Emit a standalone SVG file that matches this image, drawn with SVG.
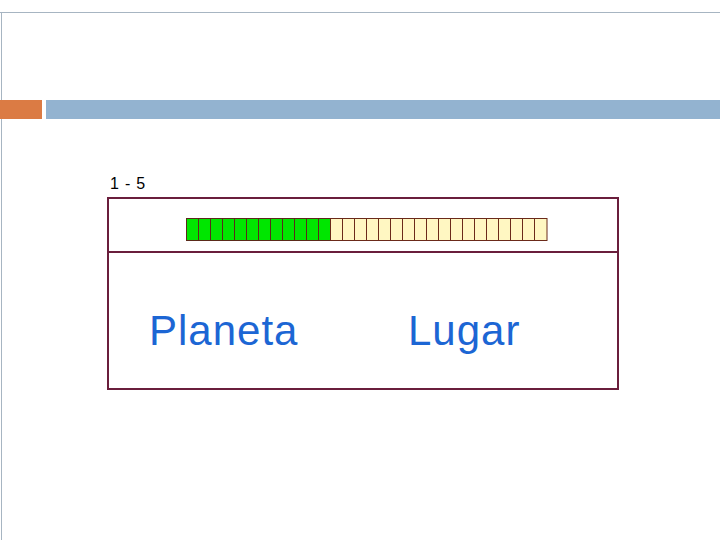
<svg xmlns="http://www.w3.org/2000/svg" width="720" height="540" viewBox="0 0 720 540">
<style>
.g{fill:#00e600;stroke:#5a2a1a;stroke-width:1}
.y{fill:#fff7c2;stroke:#6b2a1a;stroke-width:1}
.big{font-family:"Liberation Sans",Arial,sans-serif;font-size:42px;letter-spacing:1px;fill:#1c66d4}
</style>
<rect width="720" height="540" fill="#fff"/>
<line x1="0" y1="12.5" x2="720" y2="12.5" stroke="#a7b5c2" stroke-width="1"/>
<line x1="1.5" y1="12" x2="1.5" y2="540" stroke="#a7b5c2" stroke-width="1"/>
<rect x="0" y="100" width="42" height="19" fill="#db7b44"/>
<rect x="46" y="100" width="674" height="19" fill="#93b3d0"/>
<text x="110" y="189" font-family="'Liberation Sans',Arial,sans-serif" font-size="16" letter-spacing="0.8" fill="#000">1 - 5</text>
<g id="box">
<rect x="108" y="198" width="510" height="191" fill="none" stroke="#6a1e3c" stroke-width="2"/>
<line x1="108" y1="252" x2="618" y2="252" stroke="#6a1e3c" stroke-width="2"/>
</g>
<g id="bar">
<rect class="g" x="186.5" y="218.5" width="12" height="22"/>
<rect class="g" x="198.5" y="218.5" width="12" height="22"/>
<rect class="g" x="210.5" y="218.5" width="12" height="22"/>
<rect class="g" x="222.5" y="218.5" width="12" height="22"/>
<rect class="g" x="234.5" y="218.5" width="12" height="22"/>
<rect class="g" x="246.5" y="218.5" width="12" height="22"/>
<rect class="g" x="258.5" y="218.5" width="12" height="22"/>
<rect class="g" x="270.5" y="218.5" width="12" height="22"/>
<rect class="g" x="282.5" y="218.5" width="12" height="22"/>
<rect class="g" x="294.5" y="218.5" width="12" height="22"/>
<rect class="g" x="306.5" y="218.5" width="12" height="22"/>
<rect class="g" x="318.5" y="218.5" width="12" height="22"/>
<rect class="y" x="330.5" y="218.5" width="12" height="22"/>
<rect class="y" x="342.5" y="218.5" width="12" height="22"/>
<rect class="y" x="354.5" y="218.5" width="12" height="22"/>
<rect class="y" x="366.5" y="218.5" width="12" height="22"/>
<rect class="y" x="378.5" y="218.5" width="12" height="22"/>
<rect class="y" x="390.5" y="218.5" width="12" height="22"/>
<rect class="y" x="402.5" y="218.5" width="12" height="22"/>
<rect class="y" x="414.5" y="218.5" width="12" height="22"/>
<rect class="y" x="426.5" y="218.5" width="12" height="22"/>
<rect class="y" x="438.5" y="218.5" width="12" height="22"/>
<rect class="y" x="450.5" y="218.5" width="12" height="22"/>
<rect class="y" x="462.5" y="218.5" width="12" height="22"/>
<rect class="y" x="474.5" y="218.5" width="12" height="22"/>
<rect class="y" x="486.5" y="218.5" width="12" height="22"/>
<rect class="y" x="498.5" y="218.5" width="12" height="22"/>
<rect class="y" x="510.5" y="218.5" width="12" height="22"/>
<rect class="y" x="522.5" y="218.5" width="12" height="22"/>
<rect class="y" x="534.5" y="218.5" width="12.5" height="22"/>
</g>
<text class="big" x="149" y="345">Planeta</text>
<text class="big" x="408" y="345">Lugar</text>
</svg>
